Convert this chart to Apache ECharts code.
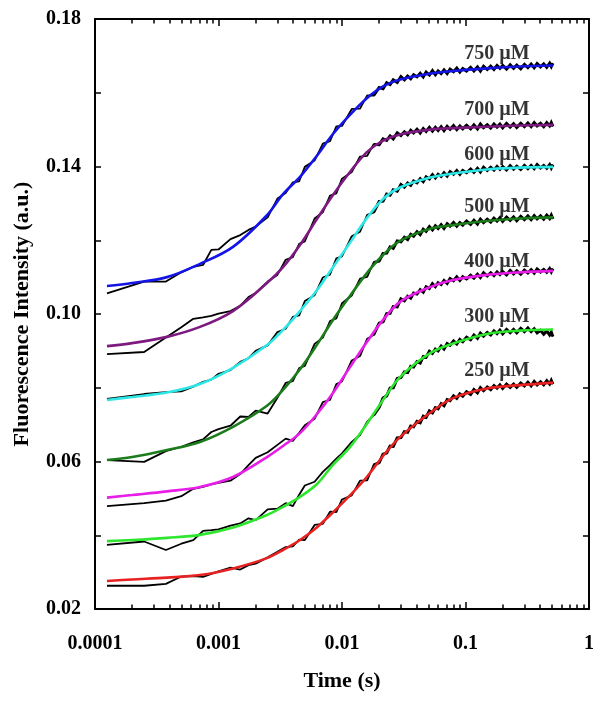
<!DOCTYPE html>
<html><head><meta charset="utf-8">
<script src="https://cdn.jsdelivr.net/npm/echarts@6/dist/echarts.min.js"></script>
<style>html,body{margin:0;padding:0;background:#fff}#c{width:602px;height:702px}</style>
</head><body><div id="c"></div>
<script>
// ---------- DATA ----------
const concLabels = ['750 µM','700 µM','600 µM','500 µM','400 µM','300 µM','250 µM'];
const labelTimes = [0.18,0.18,0.18,0.18,0.18,0.18,0.18];
const labelValues = [0.1705,0.1555,0.1431,0.1290,0.1142,0.0992,0.0845];

const xTickValues = [0.0001,0.001,0.01,0.1,1];
const xTickLabels = ['0.0001','0.001','0.01','0.1','1'];
const xMinorTickValues = [0.0002,0.0003,0.0004,0.0005,0.0006,0.0007,0.0008,0.0009,
  0.002,0.003,0.004,0.005,0.006,0.007,0.008,0.009,
  0.02,0.03,0.04,0.05,0.06,0.07,0.08,0.09,
  0.2,0.3,0.4,0.5,0.6,0.7,0.8,0.9];
const yTickLabels = ['0.02','0.06','0.10','0.14','0.18'];

// fitted curves (coloured)
const fitTimes = [1.25e-4,2.0e-4,3.83e-4,7.08e-4,1.31e-3,2.47e-3,3.33e-3,4.57e-3,6.28e-3,8.45e-3,0.0116,0.0159,0.0215,0.0295,0.0517,0.0793,0.149,0.276,0.512];
const fit750 = [.1076,.1084,.1100,.1136,.1182,.1268,.1325,.1372,.1430,.1488,.1540,.1585,.1617,.1636,.1652,.1659,.1666,.1671,.1674];
const fit700 = [.0913,.0921,.0938,.0965,.1008,.1084,.1127,.1187,.1258,.1323,.1385,.1439,.1470,.1487,.1500,.1504,.1508,.1511,.1513];
const fit600 = [.0767,.0775,.0787,.0810,.0854,.0916,.0957,.1008,.1065,.1127,.1193,.1260,.1312,.1343,.1370,.1381,.1392,.1397,.1399];
const fit500 = [.0604,.0612,.0631,.0653,.0694,.0751,.0794,.0850,.0917,.0984,.1049,.1111,.1160,.1198,.1231,.1241,.1252,.1259,.1262];
const fit400 = [.0502,.0509,.0519,.0531,.0558,.0612,.0642,.0677,.0729,.0786,.0856,.0924,.0984,.1033,.1073,.1092,.1106,.1113,.1117];
const fit300 = [.0384,.0387,.0393,.0401,.0421,.0455,.0477,.0504,.0539,.0591,.0639,.0702,.0767,.0829,.0894,.0920,.0946,.0955,.0958];
const fit250 = [.0276,.0280,.0285,.0292,.0310,.0338,.0360,.0387,.0422,.0462,.0508,.0558,.0615,.0666,.0732,.0772,.0798,.0807,.0814];

// measured traces (black)
const dataTimes = [1.25e-4,2.5e-4,3.75e-4,5e-4,6.25e-4,7.5e-4,8.75e-4,1e-3,1.25e-3,1.5e-3,1.75e-3,2e-3,2.5e-3,3e-3,3.5e-3,4e-3,4.5e-3,5e-3,6e-3,7e-3,8e-3,9e-3,0.01,0.012,0.014,0.016,0.018,
  0.02,0.0215,0.023,0.0245,0.026,0.028,0.03,0.032,0.034,0.036,0.038,0.0405,0.043,0.0455,0.048,0.051,0.054,0.057,0.06,0.0635,0.067,0.071,0.075,0.08,0.085,0.09,0.095,0.102,0.11,0.117,0.125,0.132,0.14,0.15,0.16,0.17,0.18,0.19,0.2,0.215,0.23,0.245,0.26,0.28,0.3,0.32,0.34,0.36,0.38,0.405,0.43,0.455,0.48,0.495,0.51];
const data750 = [.1056,.1088,.1088,.1113,.1128,.1133,.1174,.1175,.1203,.1214,.1228,.1237,.1262,.1313,.1328,.1357,.1360,.1399,.1416,.1462,.1469,.1509,.1510,.1556,.1557,.1593,.1592,
  .1614,.1611,.1627,.1622,.1635,.1628,.1644,.1635,.1645,.1638,.1649,.1643,.1653,.1643,.1656,.1648,.1660,.1649,.1659,.1652,.1662,.1652,.1664,.1657,.1667,.1656,.1666,.1659,.1669,.1659,.1670,.1659,.1672,.1663,.1672,.1663,.1674,.1666,.1674,.1664,.1676,.1666,.1675,.1665,.1677,.1668,.1678,.1668,.1679,.1670,.1678,.1669,.1680,.1671,.1680];
const data700 = [.0891,.0897,.0936,.0964,.0987,.0991,.0995,.1001,.1008,.1022,.1046,.1057,.1088,.1106,.1147,.1154,.1190,.1197,.1259,.1276,.1321,.1327,.1367,.1385,.1427,.1429,.1460,
  .1459,.1475,.1471,.1483,.1475,.1491,.1484,.1494,.1486,.1498,.1491,.1501,.1491,.1503,.1495,.1506,.1496,.1506,.1498,.1508,.1497,.1509,.1501,.1511,.1500,.1510,.1502,.1512,.1502,.1513,.1502,.1515,.1505,.1513,.1504,.1515,.1507,.1515,.1505,.1517,.1507,.1516,.1506,.1517,.1508,.1518,.1508,.1519,.1510,.1517,.1508,.1519,.1510,.1519,.1509];
const data600 = [.0770,.0783,.0788,.0790,.0803,.0816,.0822,.0838,.0848,.0870,.0880,.0900,.0915,.0951,.0960,.0992,.0996,.1035,.1051,.1099,.1107,.1151,.1156,.1211,.1223,.1269,.1275,
  .1305,.1306,.1325,.1322,.1337,.1333,.1351,.1344,.1355,.1349,.1361,.1356,.1367,.1359,.1372,.1366,.1378,.1369,.1379,.1373,.1383,.1374,.1386,.1379,.1389,.1379,.1389,.1383,.1393,.1384,.1395,.1385,.1398,.1389,.1398,.1390,.1400,.1392,.1400,.1391,.1402,.1393,.1401,.1392,.1403,.1394,.1403,.1394,.1405,.1396,.1403,.1395,.1405,.1396,.1405];
const data500 = [.0604,.0599,.0628,.0640,.0652,.0660,.0680,.0688,.0697,.0722,.0721,.0738,.0730,.0773,.0813,.0818,.0853,.0859,.0919,.0936,.0981,.0988,.1029,.1050,.1096,.1101,.1139,
  .1144,.1164,.1165,.1182,.1178,.1198,.1196,.1208,.1202,.1216,.1211,.1223,.1215,.1230,.1224,.1237,.1228,.1239,.1232,.1242,.1232,.1245,.1238,.1248,.1238,.1248,.1241,.1252,.1243,.1254,.1244,.1257,.1248,.1257,.1249,.1260,.1252,.1261,.1251,.1263,.1254,.1263,.1253,.1265,.1256,.1266,.1256,.1267,.1258,.1266,.1257,.1268,.1259,.1268,.1258];
const data400 = [.0479,.0487,.0494,.0506,.0526,.0531,.0538,.0542,.0548,.0566,.0590,.0610,.0625,.0645,.0662,.0656,.0678,.0698,.0716,.0761,.0767,.0810,.0817,.0874,.0886,.0933,.0943,
  .0975,.0979,.1001,.1002,.1020,.1019,.1041,.1036,.1048,.1043,.1057,.1054,.1066,.1059,.1074,.1069,.1082,.1074,.1085,.1080,.1091,.1083,.1096,.1090,.1101,.1091,.1101,.1095,.1105,.1097,.1108,.1099,.1112,.1103,.1112,.1104,.1114,.1107,.1115,.1106,.1118,.1109,.1117,.1108,.1119,.1111,.1120,.1111,.1122,.1114,.1121,.1113,.1123,.1114,.1123];
const data300 = [.0374,.0383,.0360,.0377,.0387,.0412,.0414,.0416,.0426,.0432,.0446,.0441,.0470,.0472,.0487,.0479,.0510,.0535,.0545,.0572,.0590,.0608,.0622,.0653,.0672,.0708,.0725,
  .0747,.0772,.0778,.0799,.0800,.0825,.0828,.0843,.0841,.0858,.0856,.0871,.0867,.0885,.0883,.0899,.0893,.0905,.0900,.0913,.0905,.0920,.0915,.0927,.0919,.0931,.0925,.0937,.0930,.0943,.0934,.0948,.0940,.0950,.0943,.0954,.0947,.0956,.0946,.0958,.0949,.0958,.0949,.0961,.0952,.0962,.0952,.0960,.0949,.0956,.0945,.0954,.0943,.0951,.0939];
const data250 = [.0263,.0263,.0268,.0288,.0289,.0287,.0295,.0302,.0312,.0307,.0319,.0323,.0340,.0355,.0368,.0370,.0388,.0387,.0428,.0431,.0464,.0463,.0497,.0508,.0548,.0549,.0590,
  .0597,.0620,.0623,.0642,.0641,.0664,.0665,.0681,.0679,.0696,.0694,.0709,.0705,.0723,.0720,.0737,.0732,.0746,.0743,.0757,.0751,.0768,.0765,.0778,.0771,.0783,.0777,.0789,.0782,.0795,.0786,.0800,.0792,.0802,.0795,.0806,.0799,.0808,.0798,.0810,.0801,.0810,.0801,.0813,.0805,.0815,.0805,.0817,.0808,.0816,.0808,.0819,.0810,.0820,.0810];

const fitColors = ['#1414e6','#7d1a80','#2ee6e6','#1c7c1c','#e81ee8','#2ee62e','#e82222'];

// ---------- CHART ----------
const FONT = '"Liberation Serif","Times New Roman",serif';
const fits = [fit750,fit700,fit600,fit500,fit400,fit300,fit250];
const datas = [data750,data700,data600,data500,data400,data300,data250];
const denseStart = 26; // index where the dense, noisy plateau sampling begins

const series = [];
datas.forEach((d, i) => {
  const pts = dataTimes.map((t, j) => [t, d[j]]);
  series.push({
    type: 'line', xAxisIndex: 0, yAxisIndex: 0, data: pts,
    symbol: 'none', lineStyle: { color: '#000', width: 1.8 }, z: 2, silent: true
  });
  series.push({
    type: 'line', xAxisIndex: 0, yAxisIndex: 0, data: pts.slice(denseStart),
    symbol: 'none', lineStyle: { color: '#000', width: 3, join: 'miter' }, z: 2, silent: true
  });
});
fits.forEach((f, i) => {
  series.push({
    type: 'line', xAxisIndex: 0, yAxisIndex: 0,
    data: fitTimes.map((t, j) => [t, f[j]]),
    smooth: 0.35, symbol: 'none', lineStyle: { color: fitColors[i], width: 2.6 }, z: 3, silent: true
  });
});
series.push({
  type: 'scatter', xAxisIndex: 0, yAxisIndex: 0, symbolSize: 1,
  itemStyle: { color: 'rgba(0,0,0,0)' }, z: 5, silent: true,
  data: concLabels.map((n, i) => ({ name: n, value: [labelTimes[i], labelValues[i]] })),
  label: { show: true, position: 'inside', formatter: '{b}', color: '#000',
    fontFamily: FONT, fontWeight: 'bold', fontSize: 20 }
});

const axisLine = { show: true, lineStyle: { color: '#000', width: 2 } };
const tickStyle = { color: '#000', width: 1.5 };

const option = {
  animation: false,
  backgroundColor: '#fff',
  grid: { left: 95, right: 13, top: 19, bottom: 93, containLabel: false },
  xAxis: [
    { type: 'log', logBase: 10, min: 0.0001, max: 1, position: 'bottom',
      axisLine, splitLine: { show: false },
      axisTick: { inside: true, length: 7, lineStyle: tickStyle, customValues: xTickValues },
      axisLabel: { margin: 25, color: '#000', fontFamily: FONT, fontWeight: 'bold', fontSize: 20,
        customValues: xTickValues,
        formatter: (v) => { const k = xTickValues.findIndex(x => Math.abs(Math.log10(x) - Math.log10(v)) < 1e-6); return k >= 0 ? xTickLabels[k] : ''; } },
      name: 'Time (s)', nameLocation: 'middle', nameGap: 61,
      nameTextStyle: { color: '#000', fontFamily: FONT, fontWeight: 'bold', fontSize: 22 } },
    { type: 'log', logBase: 10, min: 0.0001, max: 1, position: 'bottom',
      axisLine: { show: false }, splitLine: { show: false },
      axisTick: { inside: true, length: 4.5, lineStyle: tickStyle, customValues: xMinorTickValues },
      axisLabel: { show: false } },
    { type: 'log', logBase: 10, min: 0.0001, max: 1, position: 'top',
      axisLine, splitLine: { show: false },
      axisTick: { inside: true, length: 7, lineStyle: tickStyle, customValues: xTickValues },
      axisLabel: { show: false } },
    { type: 'log', logBase: 10, min: 0.0001, max: 1, position: 'top',
      axisLine: { show: false }, splitLine: { show: false },
      axisTick: { inside: true, length: 4.5, lineStyle: tickStyle, customValues: xMinorTickValues },
      axisLabel: { show: false } }
  ],
  yAxis: [
    { type: 'value', min: 0.02, max: 0.18, interval: 0.02, position: 'left',
      axisLine, splitLine: { show: false },
      axisTick: { inside: true, length: 6, lineStyle: tickStyle },
      axisLabel: { margin: 14, color: '#000', fontFamily: FONT, fontWeight: 'bold', fontSize: 20,
        formatter: (v) => { const s = v.toFixed(2); return yTickLabels.includes(s) ? s : ''; } },
      name: 'Fluorescence Intensity (a.u.)', nameLocation: 'middle', nameGap: 62, nameRotate: 90,
      nameTextStyle: { color: '#000', fontFamily: FONT, fontWeight: 'bold', fontSize: 22 } },
    { type: 'value', min: 0.02, max: 0.18, interval: 0.02, position: 'right',
      axisLine, splitLine: { show: false },
      axisTick: { inside: true, length: 6, lineStyle: tickStyle },
      axisLabel: { show: false } }
  ],
  series
};
const chart = echarts.init(document.getElementById('c'));
chart.setOption(option);
</script>
</body></html>
